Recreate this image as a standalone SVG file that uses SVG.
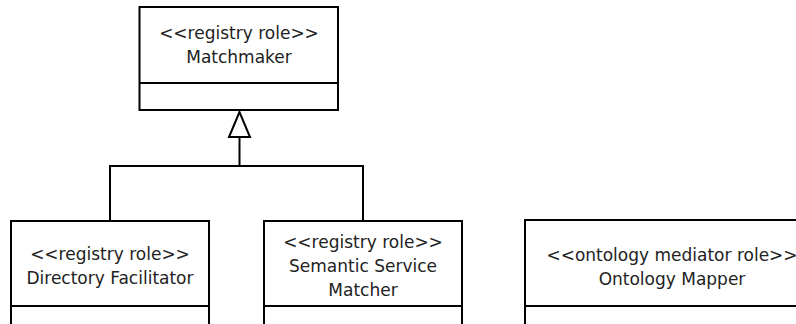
<svg xmlns="http://www.w3.org/2000/svg" width="796" height="324" viewBox="0 0 796 324">
<style>
.box{fill:#fff;stroke:#000;stroke-width:2}
.sep{stroke:#000;stroke-width:2}
.conn{fill:none;stroke:#000;stroke-width:2}
.tri{fill:#fff;stroke:#000;stroke-width:2}
text{font-family:"DejaVu Sans",Verdana,sans-serif;font-size:17px;fill:#222;text-anchor:middle}
</style>
<rect width="796" height="324" fill="#fff"/>
<g id="connectors">
<polyline class="conn" points="239.5,137 239.5,166"/>
<polyline class="conn" points="110,221 110,166 363,166 363,221"/>
<polygon class="tri" points="239.5,112 229,137 250,137"/>
</g>
<g id="matchmaker">
<rect class="box" x="139.5" y="7" width="198.5" height="103"/>
<line class="sep" x1="139.5" y1="83" x2="338" y2="83"/>
<text x="239" y="39">&lt;&lt;registry role&gt;&gt;</text>
<text x="239" y="63">Matchmaker</text>
</g>
<g id="directory-facilitator">
<rect class="box" x="11" y="221" width="198" height="120"/>
<line class="sep" x1="11" y1="306" x2="209" y2="306"/>
<text x="110" y="260">&lt;&lt;registry role&gt;&gt;</text>
<text x="110" y="284">Directory Facilitator</text>
</g>
<g id="semantic-service-matcher">
<rect class="box" x="264" y="221" width="198" height="120"/>
<line class="sep" x1="264" y1="306" x2="462" y2="306"/>
<text x="363" y="248">&lt;&lt;registry role&gt;&gt;</text>
<text x="363" y="272">Semantic Service</text>
<text x="363" y="296">Matcher</text>
</g>
<g id="ontology-mapper">
<rect class="box" x="525" y="220" width="300" height="120"/>
<line class="sep" x1="525" y1="306" x2="825" y2="306"/>
<text x="672" y="261">&lt;&lt;ontology mediator role&gt;&gt;</text>
<text x="672" y="285">Ontology Mapper</text>
</g>
</svg>
